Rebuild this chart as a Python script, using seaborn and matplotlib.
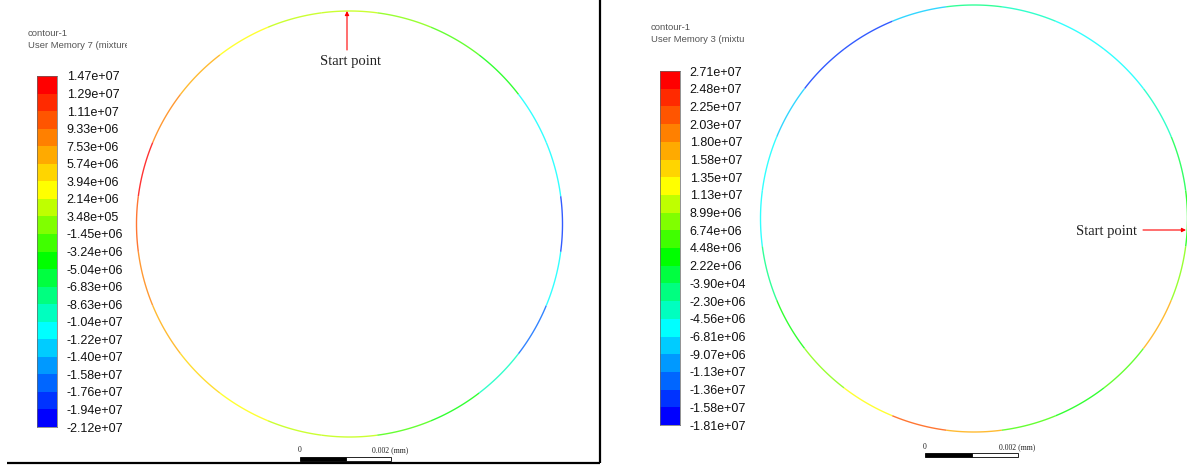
import numpy as np
import pandas as pd
import matplotlib
matplotlib.use("Agg")
import matplotlib.pyplot as plt
import seaborn as sns
from matplotlib.colors import ListedColormap, BoundaryNorm, hsv_to_rgb
from matplotlib.collections import LineCollection
from matplotlib.patches import Rectangle
from matplotlib.transforms import Bbox

W, H = 1187, 466

# ---- contour levels (colorbar edges, top to bottom) ----
left_levels = [1.47e7, 1.29e7, 1.11e7, 9.33e6, 7.53e6, 5.74e6, 3.94e6, 2.14e6,
               3.48e5, -1.45e6, -3.24e6, -5.04e6, -6.83e6, -8.63e6, -1.04e7,
               -1.22e7, -1.40e7, -1.58e7, -1.76e7, -1.94e7, -2.12e7]
right_levels = [2.71e7, 2.48e7, 2.25e7, 2.03e7, 1.80e7, 1.58e7, 1.35e7, 1.13e7,
                8.99e6, 6.74e6, 4.48e6, 2.22e6, -3.90e4, -2.30e6, -4.56e6,
                -6.81e6, -9.07e6, -1.13e7, -1.36e7, -1.58e7, -1.81e7]
left_title = ["contour-1", "User Memory 7 (mixture)"]
right_title = ["contour-1", "User Memory 3 (mixture)"]

# ---- values sampled around each ring (angle in degrees, counter-clockwise from +x) ----
ring_angles = [0, 15, 30, 45, 60, 75, 90, 105, 120, 135, 150, 165,
               180, 195, 210, 225, 240, 255, 270, 285, 300, 315, 330, 345]
left_ring = [-1.9e7, -1.15e7, -1.1e7, -5e6, -3e6, -1e6, 1e6, 2e6, 3.5e6, 6e6, 9e6, 1.35e7,
             1.1e7, 8e6, 6e6, 4e6, 3e6, 1.5e6, 5e5, -2e6, -4e6, -9e6, -1.6e7, -1.15e7]
right_ring = [3e6, 2e6, -3e6, -5e6, -5e6, -4e6, -2e6, -9e6, -1.4e7, -1.5e7, -9e6, -6e6,
              -5e6, -2e6, 3e6, 8e6, 1.3e7, 2.2e7, 1.6e7, 6e6, 3e6, 5e6, 1.6e7, 7e6]

sns.set_theme(style="white")
plt.rcParams["font.family"] = ["Liberation Sans", "DejaVu Sans"]


def band_colors(n):
    """Banded rainbow: blue -> cyan -> green -> yellow -> red."""
    idx = np.arange(n)
    hue = np.interp(idx, [0, 5, 9, 13, n - 1], [240, 180, 120, 60, 0]) / 360.0
    hsv = np.column_stack([hue, np.ones(n), np.ones(n)])
    return hsv_to_rgb(hsv)


fig = plt.figure(figsize=(W / 100, H / 100), dpi=100)
fig.patch.set_facecolor("white")
overlay = fig.add_axes([0, 0, 1, 1])
overlay.set_xlim(0, W)
overlay.set_ylim(H, 0)
overlay.axis("off")


def px_axes(x0, y0, w, h):
    return fig.add_axes([x0 / W, 1 - (y0 + h) / H, w / W, h / H])


def draw_colorbar(x0, y_top, y_bot, levels):
    n = len(levels) - 1
    cmap = ListedColormap(band_colors(n))
    ax = px_axes(x0, y_top, 20, y_bot - y_top)
    bands = pd.DataFrame({"band": np.arange(n)[::-1]})
    sns.heatmap(bands, ax=ax, cmap=cmap, vmin=-0.5, vmax=n - 0.5, cbar=False,
                xticklabels=False, yticklabels=False, linewidths=0)
    ax.set_yticks(np.arange(n + 1))
    ax.set_yticklabels([f"{v:.2e}" for v in levels], fontsize=9, color="#111111")
    ax.yaxis.tick_right()
    ax.tick_params(axis="y", length=0, pad=7, labelrotation=0)
    for s in ax.spines.values():
        s.set_visible(True)
        s.set_color("#666666")
        s.set_linewidth(0.5)
    return cmap, BoundaryNorm(sorted(levels), n)


def draw_header(x, y, lines, clip_x):
    for i, line in enumerate(lines):
        t = fig.text(x / W, 1 - (y + 12 * i) / H, line, fontsize=6.8, color="#555555",
                     ha="left", va="center", clip_on=True)
        t.set_clip_box(Bbox.from_extents(0, 0, clip_x, H))


def draw_ring(cx, cy, r, angles, values, cmap, norm):
    step = 360.0 / len(angles)
    segs = []
    for a in angles:
        t = np.deg2rad(np.linspace(a - step / 2, a + step / 2, 16))
        segs.append(np.column_stack([cx + r * np.cos(t), cy - r * np.sin(t)]))
    colors = [cmap(norm(v)) for v in values]
    overlay.add_collection(LineCollection(segs, colors=colors, linewidths=1.0,
                                          alpha=0.8, capstyle="butt"))


def draw_scalebar(x0, y0, length, label_y):
    half = length / 2
    overlay.add_patch(Rectangle((x0, y0), half, 4, facecolor="black",
                                edgecolor="black", lw=0.6))
    overlay.add_patch(Rectangle((x0 + half, y0), half, 4, facecolor="white",
                                edgecolor="black", lw=0.6))
    kw = dict(fontsize=5.6, family=["Liberation Serif", "DejaVu Serif"],
              color="#222222", va="center")
    overlay.text(x0 - 2, label_y, "0", ha="left", **kw)
    overlay.text(x0 + length - 19, label_y, "0.002 (mm)", ha="left", **kw)


serif = ["Liberation Serif", "DejaVu Serif"]

# ---- left panel ----
cmap_l, norm_l = draw_colorbar(37, 76, 427, left_levels)
draw_header(28, 34, left_title, 127)
draw_ring(349.5, 224, 213, ring_angles, left_ring, cmap_l, norm_l)
overlay.annotate("", xy=(347, 11), xytext=(347, 50),
                 arrowprops=dict(arrowstyle="-|>", color="red", lw=0.8,
                                 mutation_scale=6, shrinkA=0, shrinkB=0))
overlay.text(350, 61, "Start point", ha="center", va="center", fontsize=10.5,
             family=serif, color="#222222")
draw_scalebar(300, 457, 91, 450)
overlay.plot([600, 600], [0, 463], color="black", lw=1.6, solid_capstyle="butt")
overlay.plot([7, 600], [463, 463], color="black", lw=1.6, solid_capstyle="butt")

# ---- right panel ----
cmap_r, norm_r = draw_colorbar(660, 71, 425, right_levels)
draw_header(651, 27, right_title, 744)
draw_ring(974, 218.5, 213.5, ring_angles, right_ring, cmap_r, norm_r)
overlay.annotate("", xy=(1186, 230), xytext=(1143, 230),
                 arrowprops=dict(arrowstyle="-|>", color="red", lw=0.8,
                                 mutation_scale=6, shrinkA=0, shrinkB=0))
overlay.text(1137, 231, "Start point", ha="right", va="center", fontsize=10.5,
             family=serif, color="#222222")
draw_scalebar(925, 453, 93, 447)

fig.savefig("out.png", dpi=100, facecolor="white")
